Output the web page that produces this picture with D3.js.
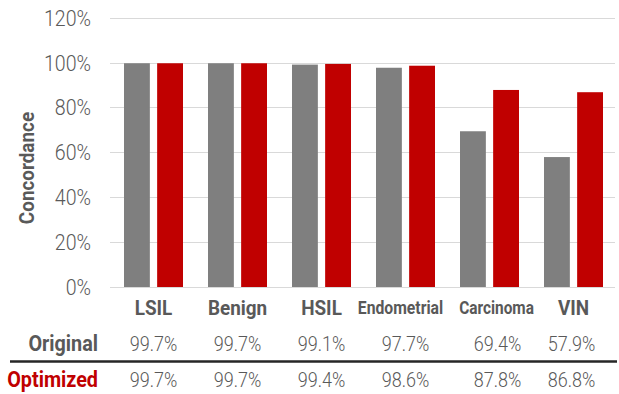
<!DOCTYPE html>
<html>
<head>
<meta charset="utf-8">
<script src="https://cdn.jsdelivr.net/npm/d3@7"></script>
<style>
  html, body { margin: 0; padding: 0; background: #fff; }
  svg { display: block; font-family: Roboto, "Liberation Sans", sans-serif; }
</style>
</head>
<body>
<svg id="chart" width="619" height="394"></svg>
<script>
// Concordance by diagnostic category, original vs optimized
const categories = ["LSIL", "Benign", "HSIL", "Endometrial", "Carcinoma", "VIN"];
const seriesNames = ["Original", "Optimized"];
const originalValues = [99.7, 99.7, 99.1, 97.7, 69.4, 57.9];
const optimizedValues = [99.7, 99.7, 99.4, 98.6, 87.8, 86.8];
const yTicks = [0, 20, 40, 60, 80, 100, 120];

const seriesValues = [originalValues, optimizedValues];
const colors = { Original: "#7f7f7f", Optimized: "#c00000" };
const textGray = "#595959";
const condense = 0.9;

const svg = d3.select("#chart");

const y = d3.scaleLinear().domain([0, 120]).range([287, 17.7]);
const x = d3.scaleBand().domain(categories).range([111.5, 615.5]).paddingInner(0).paddingOuter(0);
const xSub = d3.scaleBand().domain(seriesNames)
  .range([12.5, x.bandwidth() - 12.5]).paddingInner(0.22).paddingOuter(0);

// horizontal nudges for the text columns under the long labels
const labelShift = { Endometrial: -5, Carcinoma: 7, VIN: 0 };
const valueShift = { Carcinoma: 8, VIN: -2 };
const cx = d => x(d) + x.bandwidth() / 2;

// gridlines
svg.append("g")
  .selectAll("line")
  .data(yTicks)
  .join("line")
  .attr("x1", 110).attr("x2", 615)
  .attr("y1", d => Math.round(y(d)) + 0.5)
  .attr("y2", d => Math.round(y(d)) + 0.5)
  .attr("stroke", "#d9d9d9")
  .attr("stroke-width", 1.2);

// y axis labels
const yAxis = d3.axisLeft(y).tickValues(yTicks).tickFormat(d => d + "%").tickSize(0).tickPadding(0);
const yg = svg.append("g").attr("transform", "translate(91,0)").call(yAxis);
yg.select(".domain").remove();
yg.selectAll("text")
  .attr("x", 0)
  .attr("dy", "0.34em")
  .attr("transform", `scale(0.89,1)`)
  .style("font-family", "Roboto")
  .style("font-weight", 300)
  .style("font-size", "22px")
  .attr("fill", textGray);

// y axis title
svg.append("text")
  .attr("transform", `translate(34,168) rotate(-90) scale(${condense},1)`)
  .attr("text-anchor", "middle")
  .style("font-weight", 700)
  .style("font-size", "21px")
  .attr("fill", textGray)
  .text("Concordance");

// bars
const groups = svg.append("g")
  .selectAll("g")
  .data(categories)
  .join("g")
  .attr("transform", d => `translate(${x(d)},0)`);

groups.selectAll("rect")
  .data((c, i) => seriesNames.map((s, k) => ({ series: s, value: seriesValues[k][i] })))
  .join("rect")
  .attr("x", d => xSub(d.series))
  .attr("width", xSub.bandwidth())
  .attr("y", d => y(d.value))
  .attr("height", d => y(0) - y(d.value))
  .attr("fill", d => colors[d.series]);

// category labels
const catSize = { LSIL: 21, Benign: 21, HSIL: 21, Endometrial: 17.5, Carcinoma: 17.5, VIN: 21 };
const catSquash = { Endometrial: 0.9, Carcinoma: 0.88 };
svg.append("g")
  .selectAll("text")
  .data(categories)
  .join("text")
  .attr("transform", d => `translate(${cx(d) + (labelShift[d] || 0)},${d.length > 6 ? 313.5 : 314.5}) scale(${catSquash[d] || condense},1)`)
  .attr("text-anchor", "middle")
  .style("font-weight", 700)
  .style("font-size", d => catSize[d] + "px")
  .attr("fill", textGray)
  .text(d => d);

// data table rows
const rowBase = { Original: 350.5, Optimized: 386.5 };
const rowColor = { Original: textGray, Optimized: "#c00000" };

seriesNames.forEach((s, k) => {
  svg.append("text")
    .attr("transform", `translate(98,${rowBase[s]}) scale(${condense},1)`)
    .attr("text-anchor", "end")
    .style("font-weight", 700)
    .style("font-size", "22px")
    .attr("fill", rowColor[s])
    .text(s);

  svg.append("g")
    .selectAll("text")
    .data(categories)
    .join("text")
    .attr("transform", d => `translate(${cx(d) + (valueShift[d] || 0)},${rowBase[s]}) scale(${condense},1)`)
    .attr("text-anchor", "middle")
    .style("font-weight", 300)
    .style("font-size", "20px")
    .attr("fill", textGray)
    .text((d, i) => d3.format(".1f")(seriesValues[k][i]) + "%");
});

// divider between table rows
svg.append("line")
  .attr("x1", 10).attr("x2", 617)
  .attr("y1", 361.5).attr("y2", 361.5)
  .attr("stroke", "#262626")
  .attr("stroke-width", 2.5);
</script>
</body>
</html>
